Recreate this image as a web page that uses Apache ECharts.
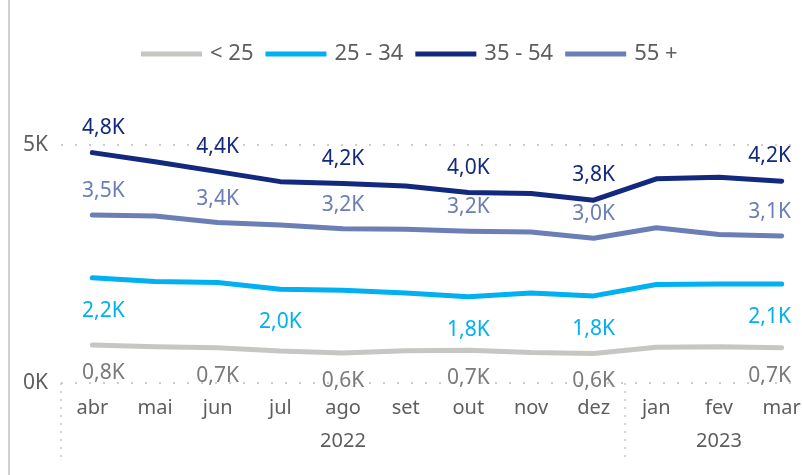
<!DOCTYPE html>
<html>
<head>
<meta charset="utf-8">
<script src="https://cdn.jsdelivr.net/npm/echarts@6/dist/echarts.min.js"></script>
<style>
  html, body { margin: 0; padding: 0; background: #fff; }
  #main { width: 802px; height: 475px; }
</style>
</head>
<body>
<div id="main"></div>
<script>
// months abr/2022 .. mar/2023
const months = ['abr', 'mai', 'jun', 'jul', 'ago', 'set', 'out', 'nov', 'dez', 'jan', 'fev', 'mar'];
const yearLabels = ['', '', '', '', '2022', '', '', '', '', '', '2023', ''];
const seriesNames = ['< 25', '25 - 34', '35 - 54', '55 +'];

const under25 = [800, 760, 740, 670, 630, 680, 690, 640, 620, 750, 760, 740];
const age25_34 = [2210, 2130, 2110, 1970, 1950, 1890, 1810, 1890, 1830, 2070, 2080, 2080];
const age35_54 = [4840, 4650, 4440, 4230, 4190, 4140, 4000, 3980, 3840, 4290, 4320, 4240];
const age55 = [3530, 3510, 3370, 3320, 3240, 3230, 3190, 3170, 3040, 3260, 3120, 3090];

// which points get a data label
const labels25_34 = [0, 3, 6, 8, 11];
const labelsOthers = [0, 2, 4, 6, 8, 11];

const colors = ['#C8C6C2', '#00B0F0', '#12297E', '#6B7EB6'];
const labelColors = ['#7A7A7A', '#00B0F0', '#12297E', '#6B7EB6'];

function fmtK(v) {
  return (v / 1000).toFixed(1).replace('.', ',') + 'K';
}

function buildData(values, shown) {
  return values.map((v, i) => {
    const item = { value: v };
    if (shown.indexOf(i) === -1) {
      item.label = { show: false };
    } else if (i === 0) {
      item.label = { show: true, offset: [11, 0] };
    } else if (i === values.length - 1) {
      item.label = { show: true, offset: [-12, 0] };
    }
    return item;
  });
}

function makeSeries(idx, values, shown, pos, dist) {
  return {
    name: seriesNames[idx],
    type: 'line',
    data: buildData(values, shown),
    symbol: 'circle',
    symbolSize: 1,
    showSymbol: true,
    showAllSymbol: true,
    smooth: false,
    lineStyle: { color: colors[idx], width: 5, cap: 'round', join: 'round' },
    itemStyle: { color: colors[idx] },
    label: {
      show: true,
      position: pos,
      distance: dist,
      formatter: p => fmtK(p.value),
      color: labelColors[idx],
      opacity: 1,
      fontSize: 21,
      fontFamily: 'Noto Sans'
    }
  };
}

const chart = echarts.init(document.getElementById('main'));
chart.setOption({
  animation: false,
  textStyle: { fontFamily: 'Noto Sans' },
  color: colors,
  graphic: [{
    type: 'line',
    shape: { x1: 9, y1: 0, x2: 9, y2: 475 },
    style: { stroke: '#D3D0CB', lineWidth: 2 }
  }],
  legend: {
    top: 38,
    left: 136,
    icon: 'rect',
    itemWidth: 61,
    itemHeight: 5,
    itemGap: 12,
    textStyle: { color: '#605E5C', fontSize: 22, padding: [0, 0, 0, 3] },
    data: seriesNames
  },
  grid: { left: 61, width: 752, top: 145, bottom: 92, outerBoundsMode: 'none' },
  xAxis: [{
    type: 'category',
    data: months,
    boundaryGap: true,
    axisLine: { show: false },
    axisTick: {
      show: true,
      length: 76,
      interval: (index) => index === 0 || index === 9,
      lineStyle: { color: '#C8C6C4', type: [2, 6], width: 1.5 }
    },
    axisLabel: { color: '#605E5C', fontSize: 20, margin: 15, interval: 0 }
  }, {
    type: 'category',
    data: yearLabels,
    position: 'bottom',
    offset: 33,
    boundaryGap: true,
    axisLine: { show: false },
    axisTick: { show: false },
    axisLabel: { color: '#605E5C', fontSize: 20, margin: 15, interval: 0 }
  }],
  yAxis: {
    type: 'value',
    min: 0,
    max: 5000,
    interval: 5000,
    axisLine: { show: false },
    axisTick: { show: false },
    axisLabel: {
      color: '#605E5C',
      fontSize: 21,
      margin: 13,
      formatter: v => (v / 1000) + 'K'
    },
    splitLine: { show: true, lineStyle: { color: '#BEBBB8', type: [2, 12], width: 1.5 } }
  },
  series: [
    makeSeries(0, under25, labelsOthers, 'bottom', 17),
    makeSeries(1, age25_34, labels25_34, 'bottom', 22),
    makeSeries(2, age35_54, labelsOthers, 'top', 14),
    makeSeries(3, age55, labelsOthers, 'top', 13)
  ]
});
</script>
</body>
</html>
